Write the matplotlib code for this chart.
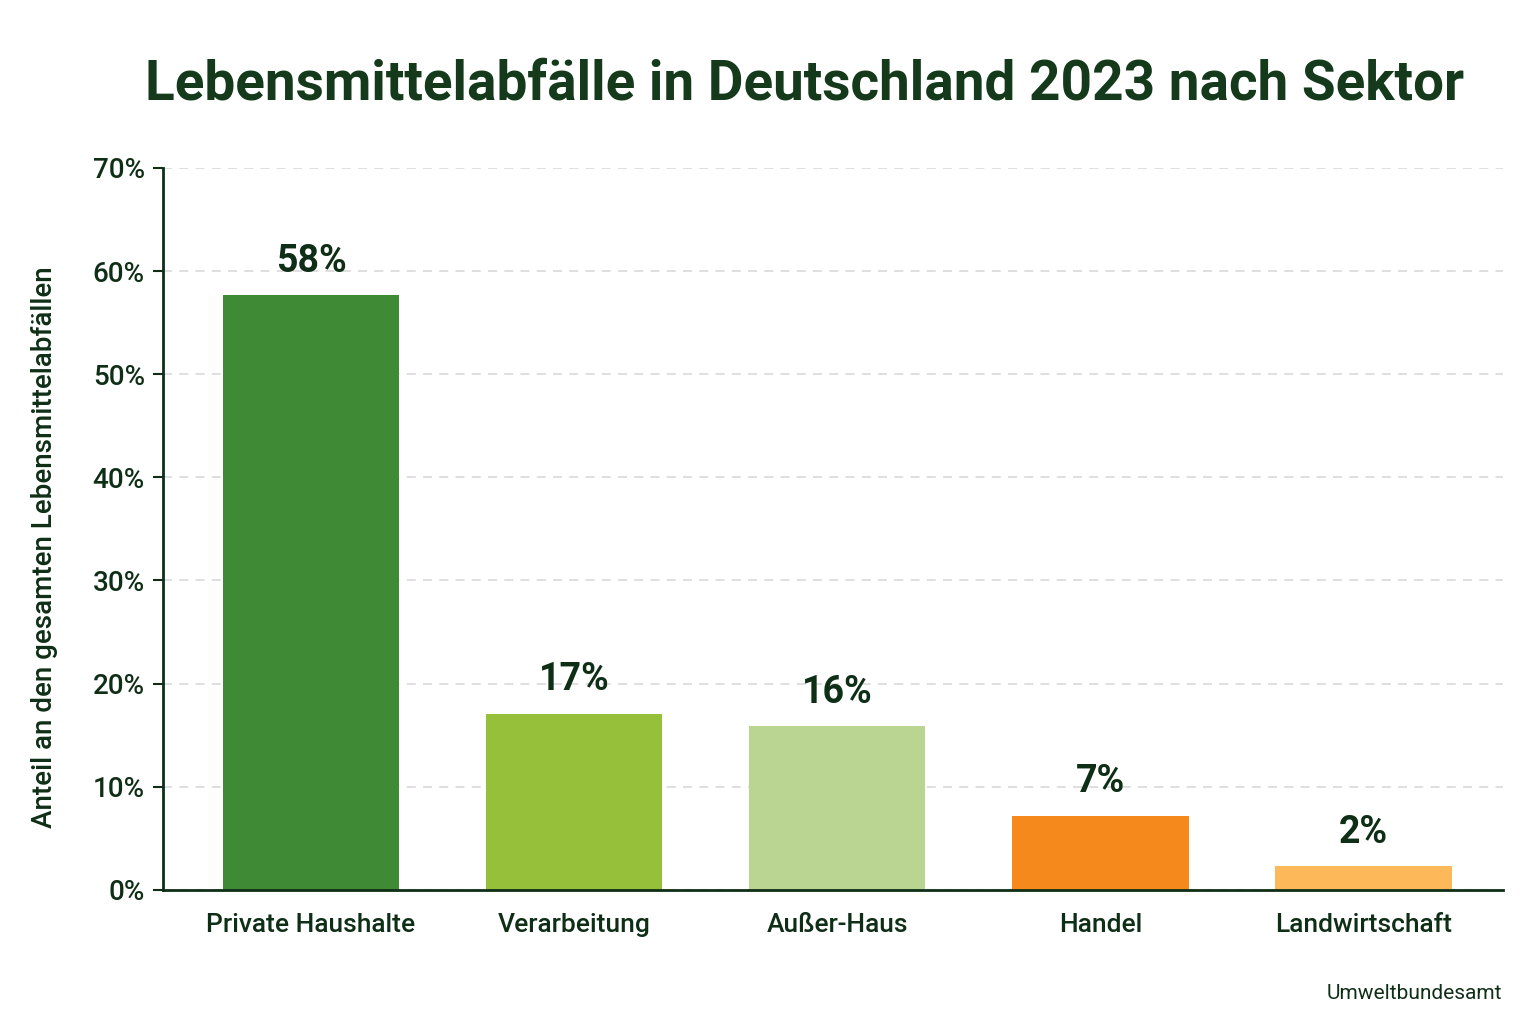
import matplotlib.pyplot as plt
from matplotlib.ticker import FuncFormatter

SECTORS = ["Private Haushalte", "Verarbeitung", "Außer-Haus", "Handel", "Landwirtschaft"]
SHARES = [57.7, 17.1, 15.9, 7.2, 2.3]
LABELS = ["58%", "17%", "16%", "7%", "2%"]
COLORS = ["#3f8a34", "#96bf3a", "#bad492", "#f5891b", "#fdb85a"]
Y_TICKS = [0, 10, 20, 30, 40, 50, 60, 70]

TEXT = "#0f2e16"

plt.rcParams["font.family"] = ["Roboto", "DejaVu Sans"]

fig = plt.figure(figsize=(15.36, 10.24), dpi=100)
ax = fig.add_axes([0.106, 0.131, 0.8725, 0.705])

x = list(range(len(SECTORS)))
ax.bar(x, SHARES, width=0.67, color=COLORS, zorder=2)

for xi, val, lab in zip(x, SHARES, LABELS):
    ax.annotate(lab, (xi, val), xytext=(0, 11), textcoords="offset points",
                ha="center", va="bottom", fontsize=27, fontweight="bold", color=TEXT)

ax.set_xlim(-0.563, 4.53)
ax.set_ylim(0, 70)
ax.set_yticks(Y_TICKS)
ax.yaxis.set_major_formatter(FuncFormatter(lambda v, _: f"{v:.0f}%"))
ax.set_xticks(x)
ax.set_xticklabels(SECTORS)

ax.grid(axis="y", color="#dcdcdc", linestyle=(0, (5, 4)), linewidth=1.3, zorder=0)
for s in ["top", "right"]:
    ax.spines[s].set_visible(False)
for s in ["left", "bottom"]:
    ax.spines[s].set_color(TEXT)
    ax.spines[s].set_linewidth(2)

ax.tick_params(axis="y", length=7, width=1.5, color=TEXT, labelsize=20, labelcolor=TEXT, pad=6)
ax.tick_params(axis="x", length=0, labelsize=19, labelcolor=TEXT, pad=17)
for t in ax.get_xticklabels() + ax.get_yticklabels():
    t.set_fontweight("medium")

ax.set_ylabel("Anteil an den gesamten Lebensmittelabfällen", fontsize=20,
              color=TEXT, fontweight="medium")
ax.yaxis.set_label_coords(-0.078, 0.475)

fig.text(0.524, 0.917, "Lebensmittelabfälle in Deutschland 2023 nach Sektor",
         ha="center", va="center", fontsize=39.5, fontweight="bold", color="#143a1b")
fig.text(0.978, 0.03, "Umweltbundesamt", ha="right", va="center", fontsize=15, color=TEXT)

fig.savefig("out.png", dpi=100, facecolor="white")
